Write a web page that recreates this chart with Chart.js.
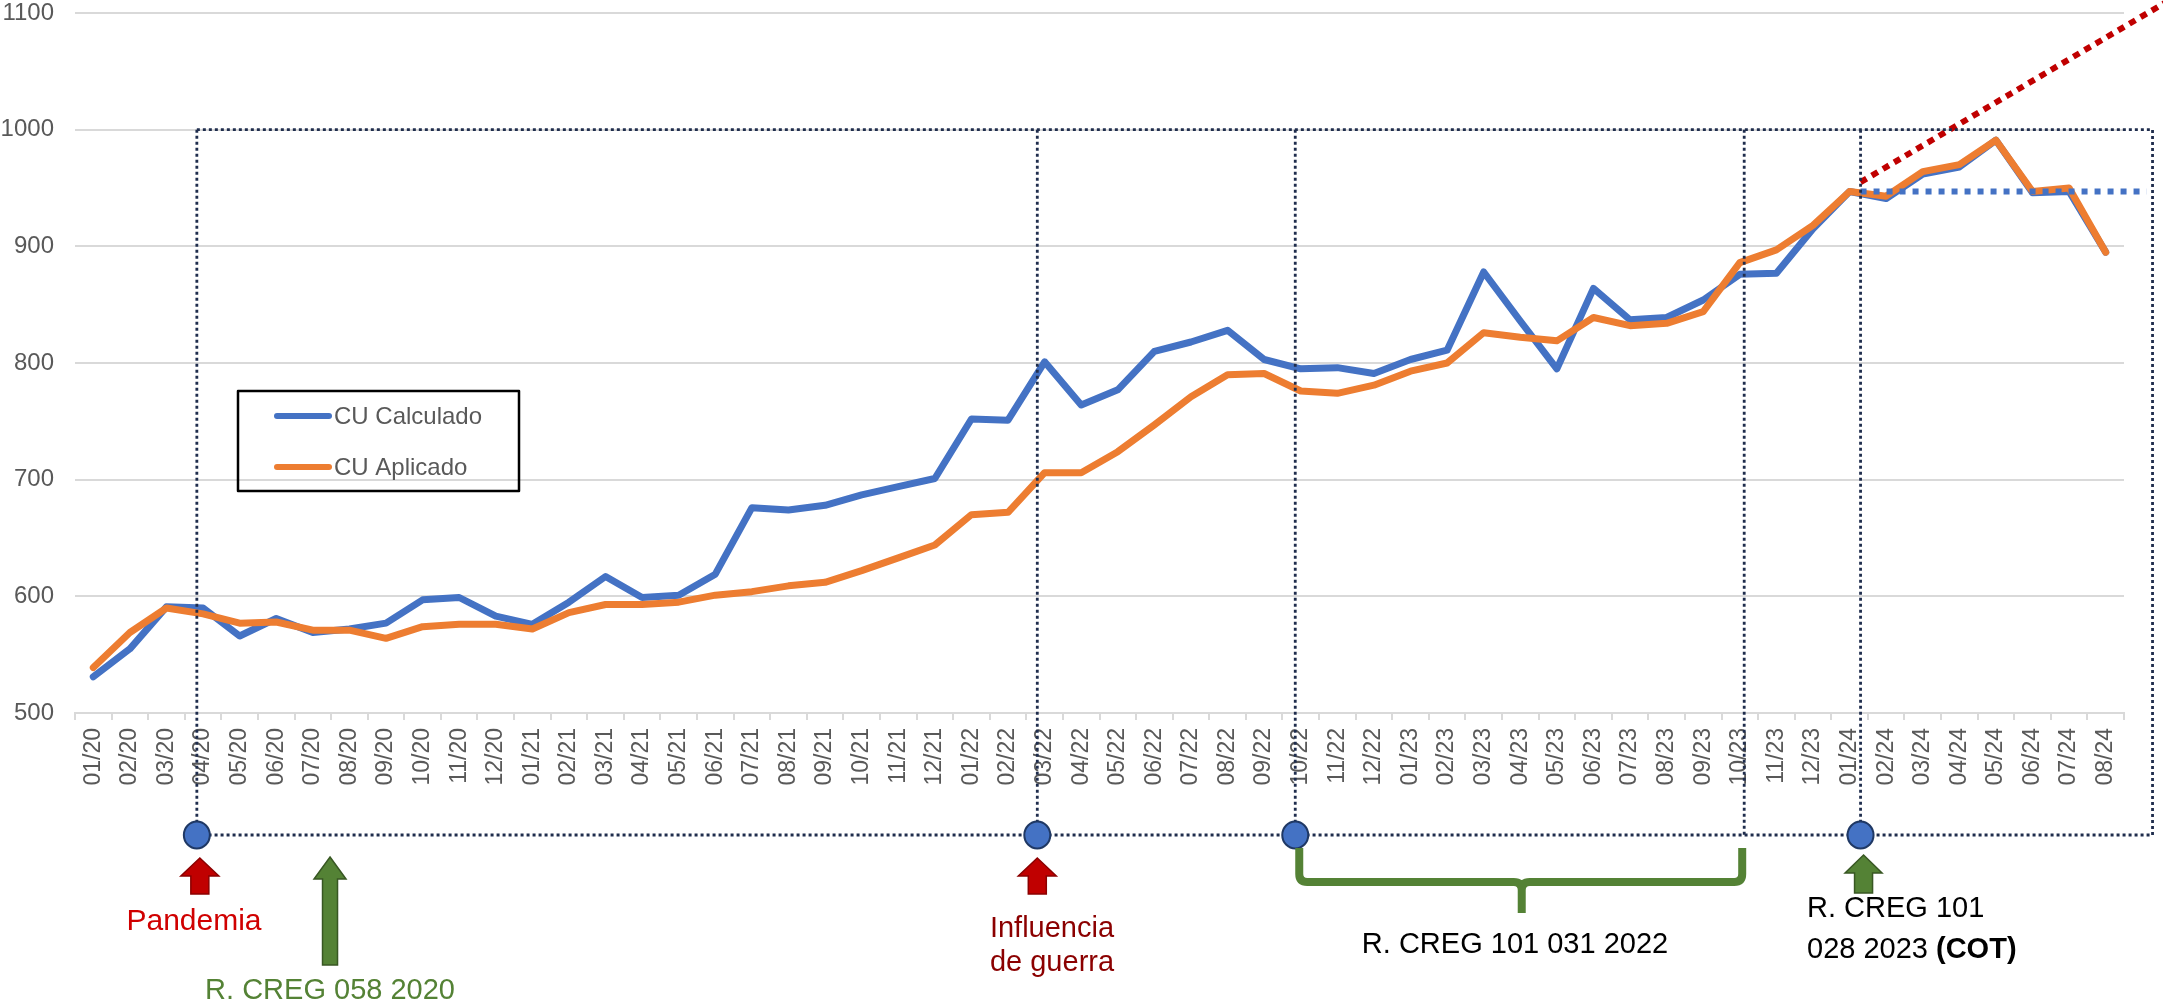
<!DOCTYPE html>
<html>
<head>
<meta charset="utf-8">
<script src="https://cdn.jsdelivr.net/npm/chart.js@4.4.1/dist/chart.umd.min.js"></script>
<style>
  body { margin: 0; background: #fff; }
  canvas { display: block; }
</style>
</head>
<body>
<canvas id="grafico" width="2163" height="1005"></canvas>
<script>
// meses (mm/aa)
var meses = ["01/20","02/20","03/20","04/20","05/20","06/20","07/20","08/20","09/20","10/20","11/20","12/20",
             "01/21","02/21","03/21","04/21","05/21","06/21","07/21","08/21","09/21","10/21","11/21","12/21",
             "01/22","02/22","03/22","04/22","05/22","06/22","07/22","08/22","09/22","10/22","11/22","12/22",
             "01/23","02/23","03/23","04/23","05/23","06/23","07/23","08/23","09/23","10/23","11/23","12/23",
             "01/24","02/24","03/24","04/24","05/24","06/24","07/24","08/24"];

var cuCalculado = [531,555,591,590,566,581,569,572,577,597,599,583,
                   576,595,617,599,601,619,676,674,678,687,694,701,
                   752,751,801,764,777,810,818,828,803,795,796,791,
                   803,811,878,836,795,864,837,839,854,876,877,915,
                   947,941,962,968,991,946,947,895];

var cuAplicado = [539,569,590,585,577,578,571,571,564,574,576,576,
                  572,586,593,593,595,601,604,609,612,622,633,644,
                  670,672,706,706,724,747,771,790,791,776,774,781,
                  793,800,826,822,819,839,832,834,844,886,897,918,
                  947,943,964,970,991,947,950,895];

var yTicks = [500,600,700,800,900,1000,1100];

// marcas (posicion en meses, puede ser fraccion) y tendencias
var marcasIdx = [2.83, 25.8, 32.85, 45.12, 48.3];
var circulosIdx = [2.83, 25.8, 32.85, 48.3];
var cajaFin = 56.28;
var cajaTope = 1000;
var tendenciaPlana = [48.3, 56.12, 947];          // desde, hasta, valor
var tendenciaSube = [48.3, 955, 56.85, 1113];     // desde, valor, hasta, valor

var FUENTE = "'Liberation Sans', Arial, sans-serif";
Chart.defaults.font.family = FUENTE;

function flecha(c, cx, tip, base, headW, headH, shaftW, fill, stroke) {
  c.beginPath();
  c.moveTo(cx, tip);
  c.lineTo(cx + headW/2, tip + headH);
  c.lineTo(cx + shaftW/2, tip + headH);
  c.lineTo(cx + shaftW/2, base);
  c.lineTo(cx - shaftW/2, base);
  c.lineTo(cx - shaftW/2, tip + headH);
  c.lineTo(cx - headW/2, tip + headH);
  c.closePath();
  c.fillStyle = fill;
  c.fill();
  c.lineWidth = 1.5;
  c.strokeStyle = stroke;
  c.stroke();
}

var anotaciones = {
  id: 'anotaciones',
  afterDraw: function(chart) {
    var c = chart.ctx;
    var xs = chart.scales.x, ys = chart.scales.y;
    var x0 = xs.getPixelForValue(0);
    var paso = xs.getPixelForValue(1) - x0;
    function px(i) { return x0 + i * paso; }
    var yTop = ys.getPixelForValue(cajaTope);
    var yBase = 835;

    c.save();
    // tendencia plana (azul punteada)
    c.setLineDash([6, 7]);
    c.lineWidth = 6;
    c.strokeStyle = '#4472C4';
    c.beginPath();
    c.moveTo(px(tendenciaPlana[0]), ys.getPixelForValue(tendenciaPlana[2]));
    c.lineTo(px(tendenciaPlana[1]), ys.getPixelForValue(tendenciaPlana[2]));
    c.stroke();
    // tendencia creciente (roja punteada)
    c.strokeStyle = '#C00000';
    c.setLineDash([7, 6]);
    c.beginPath();
    c.moveTo(px(tendenciaSube[0]), ys.getPixelForValue(tendenciaSube[1]));
    c.lineTo(px(tendenciaSube[2]), ys.getPixelForValue(tendenciaSube[3]));
    c.stroke();

    // caja punteada
    c.setLineDash([3, 3]);
    c.lineWidth = 2.8;
    c.strokeStyle = '#1F2D4D';
    c.beginPath();
    c.moveTo(px(marcasIdx[0]), yTop);
    c.lineTo(px(cajaFin), yTop);
    c.lineTo(px(cajaFin), yBase);
    c.lineTo(px(marcasIdx[0]), yBase);
    for (var i = 0; i < marcasIdx.length; i++) {
      c.moveTo(px(marcasIdx[i]), yTop);
      c.lineTo(px(marcasIdx[i]), yBase);
    }
    c.stroke();
    c.setLineDash([]);

    // circulos
    for (var j = 0; j < circulosIdx.length; j++) {
      c.beginPath();
      c.ellipse(px(circulosIdx[j]), yBase, 13, 13.5, 0, 0, Math.PI*2);
      c.fillStyle = '#4472C4';
      c.fill();
      c.lineWidth = 2;
      c.strokeStyle = '#1F3864';
      c.stroke();
    }

    // flechas
    flecha(c, px(circulosIdx[0]) + 3, 858, 894, 38, 18, 18, '#C00000', '#8B0000');
    flecha(c, px(6.47), 857, 965, 32, 22, 15, '#548235', '#385723');
    flecha(c, px(circulosIdx[1]), 858, 894, 38, 18, 18, '#C00000', '#8B0000');
    flecha(c, px(circulosIdx[3]) + 3, 855, 893, 37, 18, 18, '#548235', '#385723');

    // llave
    var b1 = px(circulosIdx[2]) + 4, b2 = px(marcasIdx[3]) - 2, bm = (b1 + b2) / 2 + 1;
    c.lineWidth = 8;
    c.strokeStyle = '#548235';
    c.lineJoin = 'round';
    c.beginPath();
    c.moveTo(b1, 848);
    c.lineTo(b1, 874);
    c.quadraticCurveTo(b1, 882, b1 + 8, 882);
    c.lineTo(bm - 8, 882);
    c.quadraticCurveTo(bm, 882, bm, 890);
    c.lineTo(bm, 913);
    c.moveTo(bm, 890);
    c.quadraticCurveTo(bm, 882, bm + 8, 882);
    c.lineTo(b2 - 8, 882);
    c.quadraticCurveTo(b2, 882, b2, 874);
    c.lineTo(b2, 848);
    c.stroke();

    // textos
    c.textBaseline = 'alphabetic';
    c.textAlign = 'center';
    c.font = '30px ' + FUENTE;
    c.fillStyle = '#D00000';
    c.fillText('Pandemia', 194, 930);
    c.font = '29px ' + FUENTE;
    c.fillStyle = '#548235';
    c.fillText('R. CREG 058 2020', px(6.47), 999);
    c.fillStyle = '#8B0000';
    c.fillText('Influencia', 1052, 937);
    c.fillText('de guerra', 1052, 971);
    c.fillStyle = '#000';
    c.fillText('R. CREG 101 031 2022', 1515, 953);
    c.textAlign = 'left';
    c.fillText('R. CREG 101', 1807, 917);
    var t = '028 2023 ';
    c.fillText(t, 1807, 958);
    var w = c.measureText(t).width;
    c.font = 'bold 29px ' + FUENTE;
    c.fillText('(COT)', 1807 + w, 958);

    // leyenda
    c.lineWidth = 2.5;
    c.strokeStyle = '#000';
    c.strokeRect(238, 391, 281, 100);
    var ds = chart.data.datasets;
    c.font = '24px ' + FUENTE;
    c.textBaseline = 'middle';
    c.lineCap = 'round';
    for (var k = 0; k < ds.length; k++) {
      var ly = 416 + k * 51;
      c.lineWidth = 6;
      c.strokeStyle = ds[k].borderColor;
      c.beginPath();
      c.moveTo(277, ly);
      c.lineTo(329, ly);
      c.stroke();
      c.fillStyle = '#595959';
      c.fillText(ds[k].label, 334, ly + 1);
    }
    c.restore();
  }
};

new Chart(document.getElementById('grafico'), {
  type: 'line',
  data: {
    labels: meses,
    datasets: [
      { label: 'CU Calculado', data: cuCalculado, borderColor: '#4472C4', borderWidth: 7,
        pointRadius: 0, tension: 0, borderJoinStyle: 'round', borderCapStyle: 'round', order: 1 },
      { label: 'CU Aplicado', data: cuAplicado, borderColor: '#ED7D31', borderWidth: 7,
        pointRadius: 0, tension: 0, borderJoinStyle: 'round', borderCapStyle: 'round', order: 0 }
    ]
  },
  options: {
    responsive: false,
    animation: false,
    layout: { padding: { top: 13, right: 39, left: 0, bottom: 0 } },
    plugins: { legend: { display: false }, tooltip: { enabled: false } },
    scales: {
      x: {
        offset: true,
        grid: { offset: true, drawOnChartArea: false, tickLength: 7, color: '#D9D9D9', lineWidth: 2 },
        border: { color: '#D9D9D9', width: 2 },
        ticks: { minRotation: 90, maxRotation: 90, autoSkip: false, padding: 8, color: '#595959', font: { size: 23 } },
        afterFit: function(s) { s.height = 292; s.paddingLeft = 0; s.paddingRight = 0; }
      },
      y: {
        min: yTicks[0],
        max: yTicks[yTicks.length - 1],
        afterBuildTicks: function(s) { s.ticks = yTicks.map(function(v) { return { value: v }; }); },
        grid: { color: '#D9D9D9', lineWidth: 2, drawTicks: false },
        border: { display: false },
        ticks: { padding: 21, color: '#595959', font: { size: 24 },
                 callback: function(v) { return String(v); } },
        afterFit: function(s) { s.width = 75; s.paddingTop = 0; s.paddingBottom = 0; }
      }
    }
  },
  plugins: [anotaciones]
});
</script>
</body>
</html>
